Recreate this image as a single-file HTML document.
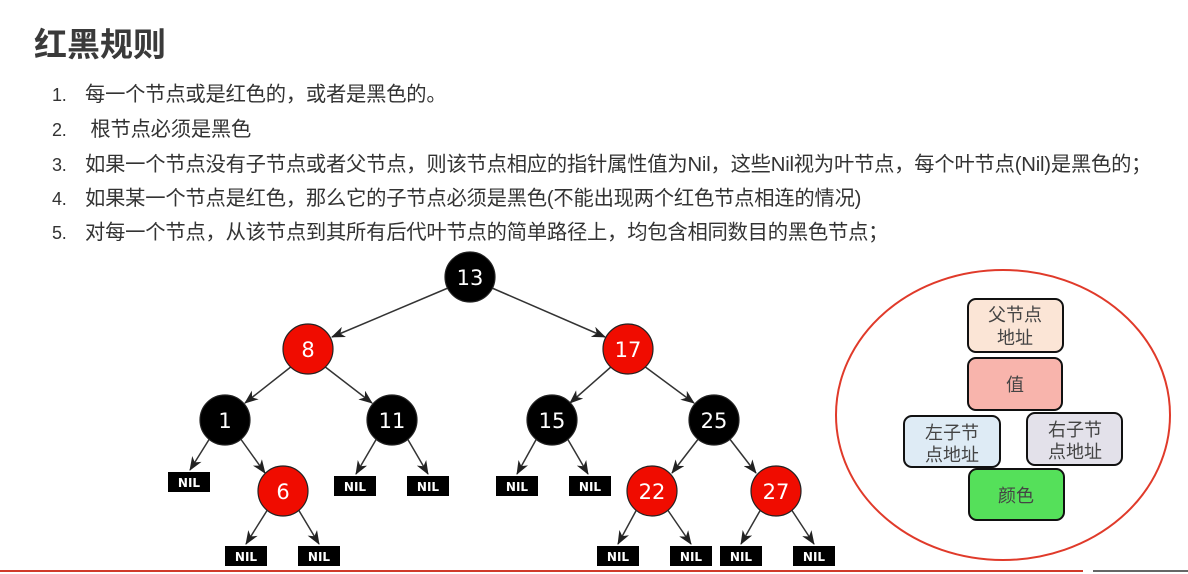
<!DOCTYPE html>
<html><head><meta charset="utf-8"><style>
body{margin:0;width:1188px;height:574px;background:#fff;overflow:hidden;position:relative;font-family:"Liberation Sans","Noto Sans CJK SC",sans-serif;color:#333}
.t{position:absolute;left:34px;top:18px;font-size:33px;font-weight:bold;color:#3a3a3a}
.li{position:absolute;left:52px;font-size:20.3px;color:#333;white-space:nowrap;letter-spacing:-0.2px}
.li span{display:inline-block;width:33px;font-size:18px}
</style></head><body>
<div class="t">红黑规则</div>
<div class="li" style="top:77px"><span>1.</span>每一个节点或是红色的，或者是黑色的。</div>
<div class="li" style="top:112px"><span>2.</span> 根节点必须是黑色</div>
<div class="li" style="top:147px"><span>3.</span>如果一个节点没有子节点或者父节点，则该节点相应的指针属性值为Nil，这些Nil视为叶节点，每个叶节点(Nil)是黑色的；</div>
<div class="li" style="top:181px"><span>4.</span>如果某一个节点是红色，那么它的子节点必须是黑色(不能出现两个红色节点相连的情况)</div>
<div class="li" style="top:215px"><span>5.</span>对每一个节点，从该节点到其所有后代叶节点的简单路径上，均包含相同数目的黑色节点；</div>
<svg width="1188" height="574" style="position:absolute;left:0;top:0">
<defs><marker id="a" markerWidth="14" markerHeight="11" refX="13" refY="5.5" orient="auto" markerUnits="userSpaceOnUse"><path d="M0,0L14,5.5L0,11L4,5.5z" fill="#222"/></marker></defs>
<g stroke="#333" stroke-width="1.5" marker-end="url(#a)">
<line x1="448" y1="288" x2="332" y2="337"/>
<line x1="492" y1="288" x2="605" y2="337"/>
<line x1="292" y1="366" x2="245" y2="403"/>
<line x1="324" y1="366" x2="372" y2="403"/>
<line x1="612" y1="366" x2="570" y2="403"/>
<line x1="644" y1="366" x2="694" y2="403"/>
<line x1="210" y1="438" x2="190" y2="470"/>
<line x1="240" y1="438" x2="265" y2="473"/>
<line x1="377" y1="438" x2="356" y2="474"/>
<line x1="407" y1="438" x2="428" y2="474"/>
<line x1="537" y1="438" x2="517" y2="474"/>
<line x1="567" y1="438" x2="588" y2="474"/>
<line x1="699" y1="438" x2="672" y2="473"/>
<line x1="729" y1="438" x2="756" y2="473"/>
<line x1="268" y1="509" x2="246" y2="544"/>
<line x1="298" y1="509" x2="319" y2="544"/>
<line x1="637" y1="509" x2="618" y2="544"/>
<line x1="667" y1="509" x2="691" y2="544"/>
<line x1="761" y1="509" x2="741" y2="544"/>
<line x1="791" y1="509" x2="814" y2="544"/>
</g>
<g stroke="#222" stroke-width="1.2" font-family="DejaVu Sans,sans-serif" font-size="21" text-anchor="middle">
<circle cx="470" cy="277" r="25" fill="#000"/><text x="470" y="285" fill="#fff" stroke="none">13</text>
<circle cx="308" cy="349" r="25" fill="#f00c00"/><text x="308" y="357" fill="#fff" stroke="none">8</text>
<circle cx="628" cy="349" r="25" fill="#f00c00"/><text x="628" y="357" fill="#fff" stroke="none">17</text>
<circle cx="225" cy="420" r="25" fill="#000"/><text x="225" y="428" fill="#fff" stroke="none">1</text>
<circle cx="392" cy="420" r="25" fill="#000"/><text x="392" y="428" fill="#fff" stroke="none">11</text>
<circle cx="552" cy="420" r="25" fill="#000"/><text x="552" y="428" fill="#fff" stroke="none">15</text>
<circle cx="714" cy="420" r="25" fill="#000"/><text x="714" y="428" fill="#fff" stroke="none">25</text>
<circle cx="283" cy="491" r="25" fill="#f00c00"/><text x="283" y="499" fill="#fff" stroke="none">6</text>
<circle cx="652" cy="491" r="25" fill="#f00c00"/><text x="652" y="499" fill="#fff" stroke="none">22</text>
<circle cx="776" cy="491" r="25" fill="#f00c00"/><text x="776" y="499" fill="#fff" stroke="none">27</text>
</g>
<g font-family="DejaVu Sans,sans-serif" font-size="12" font-weight="bold" text-anchor="middle" fill="#fff">
<g fill="#000"><rect x="168" y="472" width="42" height="20"/><rect x="334" y="476" width="42" height="20"/><rect x="407" y="476" width="42" height="20"/><rect x="496" y="476" width="42" height="20"/><rect x="569" y="476" width="42" height="20"/><rect x="225" y="546" width="42" height="20"/><rect x="298" y="546" width="42" height="20"/><rect x="597" y="546" width="42" height="20"/><rect x="670" y="546" width="42" height="20"/><rect x="720" y="546" width="42" height="20"/><rect x="793" y="546" width="42" height="20"/></g>
<text x="189" y="487">NIL</text><text x="355" y="491">NIL</text><text x="428" y="491">NIL</text><text x="517" y="491">NIL</text><text x="590" y="491">NIL</text><text x="246" y="561">NIL</text><text x="319" y="561">NIL</text><text x="618" y="561">NIL</text><text x="691" y="561">NIL</text><text x="741" y="561">NIL</text><text x="814" y="561">NIL</text>
</g>
<ellipse cx="1003" cy="415" rx="167" ry="145" fill="none" stroke="#e03a2a" stroke-width="2"/>
<g stroke="#111" stroke-width="2" font-size="18" text-anchor="middle" fill="#444" font-family="Liberation Sans,Noto Sans CJK SC,sans-serif">
<rect x="968" y="299" width="95" height="53" rx="8" fill="#fbe5d6"/>
<rect x="968" y="358" width="94" height="52" rx="8" fill="#f8b4ac"/>
<rect x="904" y="416" width="96" height="51" rx="8" fill="#deebf5"/>
<rect x="1027" y="413" width="95" height="52" rx="8" fill="#e3e1ea"/>
<rect x="969" y="469" width="95" height="51" rx="8" fill="#55e05a"/>
<g stroke="none"><text x="1015" y="321">父节点</text><text x="1015" y="344">地址</text>
<text x="1015" y="391">值</text>
<text x="952" y="439">左子节</text><text x="952" y="461">点地址</text>
<text x="1075" y="436">右子节</text><text x="1075" y="458">点地址</text>
<text x="1016" y="502">颜色</text></g>
</g>
<rect x="0" y="570" width="1083" height="2" fill="#d03a2a"/>
<rect x="1093" y="570" width="95" height="2" fill="#666"/>
</svg>
</body></html>
